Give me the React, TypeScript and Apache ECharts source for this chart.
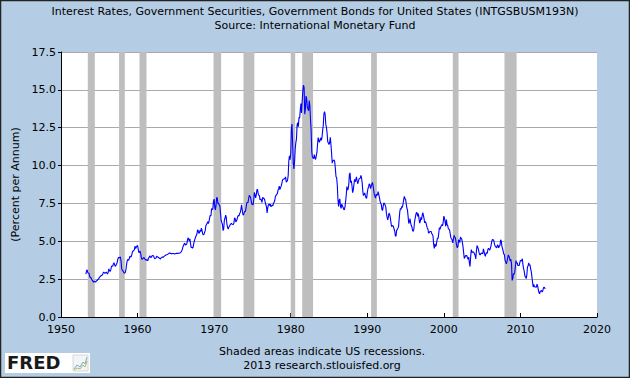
import React, { useEffect, useRef } from "react";
import * as echarts from "echarts";

// Monthly values, starting April 1953
const START_YEAR = 1953;
const START_MONTH = 4;
const yields1950s = [
  2.83, 3.05, 3.11, 2.93, 2.95, 2.87, 2.66, 2.68, 2.59,
  2.48, 2.47, 2.37, 2.29, 2.37, 2.38, 2.30, 2.36, 2.38, 2.43, 2.48, 2.51,
  2.61, 2.65, 2.68, 2.75, 2.76, 2.78, 2.90, 2.97, 2.97, 2.88, 2.89, 2.96,
  2.90, 2.84, 2.96, 3.18, 3.07, 3.00, 3.11, 3.33, 3.38, 3.34, 3.49, 3.59,
  3.46, 3.34, 3.41, 3.48, 3.60, 3.80, 3.93, 3.93, 3.92, 3.97, 3.72, 3.21,
  3.09, 3.05, 2.98, 2.88, 2.92, 2.97, 3.20, 3.54, 3.76, 3.80, 3.74, 3.86,
  4.02, 3.96, 3.99, 4.12, 4.31, 4.34, 4.40, 4.43, 4.68, 4.53, 4.53, 4.69,
];
const yields1960s = [
  4.72, 4.49, 4.25, 4.28, 4.35, 4.15, 3.90, 3.80, 3.80, 3.89, 3.93, 3.84,
  3.84, 3.78, 3.74, 3.78, 3.71, 3.88, 3.92, 4.04, 3.98, 3.92, 3.94, 4.06,
  4.08, 4.04, 3.93, 3.84, 3.87, 3.91, 4.01, 3.98, 3.98, 3.93, 3.92, 3.86,
  3.83, 3.92, 3.93, 3.97, 3.93, 3.99, 4.02, 4.00, 4.08, 4.11, 4.12, 4.13,
  4.17, 4.15, 4.22, 4.23, 4.20, 4.17, 4.19, 4.19, 4.20, 4.19, 4.15, 4.18,
  4.19, 4.21, 4.21, 4.20, 4.21, 4.21, 4.20, 4.25, 4.29, 4.35, 4.45, 4.62,
  4.61, 4.83, 4.87, 4.75, 4.78, 4.81, 5.02, 5.22, 5.18, 5.01, 5.16, 4.84,
  4.58, 4.63, 4.54, 4.59, 4.85, 5.02, 5.16, 5.28, 5.30, 5.48, 5.75, 5.70,
  5.53, 5.56, 5.74, 5.64, 5.87, 5.72, 5.50, 5.42, 5.46, 5.58, 5.70, 6.03,
  6.04, 6.19, 6.30, 6.17, 6.32, 6.57, 6.72, 6.69, 7.16, 7.10, 7.14, 7.65,
];
const yields1970s = [
  7.79, 7.24, 7.07, 7.39, 7.91, 7.84, 7.46, 7.53, 7.39, 7.33, 6.84, 6.39,
  6.24, 6.11, 5.70, 5.83, 6.39, 6.52, 6.73, 6.58, 6.14, 5.93, 5.81, 5.93,
  5.95, 6.08, 6.07, 6.19, 6.13, 6.11, 6.11, 6.21, 6.55, 6.48, 6.28, 6.36,
  6.46, 6.64, 6.71, 6.67, 6.85, 6.90, 7.13, 7.40, 7.09, 6.79, 6.73, 6.74,
  6.99, 6.96, 7.21, 7.51, 7.58, 7.54, 7.81, 8.04, 8.04, 7.90, 7.68, 7.43,
  7.50, 7.39, 7.73, 8.23, 8.06, 7.86, 8.06, 8.40, 8.43, 8.14, 8.05, 8.00,
  7.74, 7.79, 7.73, 7.56, 7.90, 7.86, 7.83, 7.77, 7.59, 7.41, 7.29, 6.87,
  7.21, 7.39, 7.46, 7.37, 7.46, 7.28, 7.33, 7.40, 7.34, 7.52, 7.58, 7.69,
  7.96, 8.03, 8.04, 8.15, 8.35, 8.46, 8.64, 8.41, 8.42, 8.64, 8.81, 9.01,
  9.10, 9.10, 9.12, 9.18, 9.25, 8.91, 8.95, 9.03, 9.33, 10.30, 10.65, 10.39,
];
const yields1980s = [
  10.80, 12.41, 12.75, 11.47, 10.18, 9.78, 10.25, 11.10, 11.51, 11.75, 12.68, 12.84,
  12.57, 13.19, 13.12, 13.68, 14.10, 13.47, 14.28, 14.94, 15.32, 15.15, 13.39, 13.72,
  14.59, 14.43, 13.86, 13.87, 13.62, 14.30, 13.95, 13.06, 12.34, 10.91, 10.55, 10.54,
  10.46, 10.72, 10.51, 10.40, 10.38, 10.85, 11.38, 11.85, 11.65, 11.54, 11.69, 11.83,
  11.67, 11.84, 12.32, 12.63, 13.41, 13.56, 13.36, 12.72, 12.52, 12.16, 11.57, 11.50,
  11.38, 11.51, 11.86, 11.43, 10.85, 10.16, 10.31, 10.33, 10.37, 10.24, 9.78, 9.26,
  9.19, 8.70, 7.78, 7.30, 7.71, 7.80, 7.30, 7.17, 7.45, 7.43, 7.25, 7.11,
  7.08, 7.25, 7.25, 8.02, 8.61, 8.40, 8.45, 8.76, 9.42, 9.52, 8.86, 8.99,
  8.67, 8.21, 8.37, 8.72, 9.09, 8.92, 9.06, 9.26, 8.98, 8.80, 8.96, 9.11,
  9.09, 9.17, 9.36, 9.18, 8.86, 8.28, 8.02, 8.11, 8.19, 8.01, 7.87, 7.84,
];
const yields1990s = [
  8.21, 8.47, 8.59, 8.79, 8.76, 8.48, 8.47, 8.75, 8.89, 8.72, 8.39, 8.08,
  8.09, 7.85, 8.11, 8.04, 8.07, 8.28, 8.27, 7.90, 7.65, 7.53, 7.42, 7.09,
  7.03, 7.34, 7.54, 7.48, 7.39, 7.26, 6.84, 6.59, 6.42, 6.59, 6.87, 6.77,
  6.60, 6.26, 5.98, 5.97, 6.04, 5.96, 5.81, 5.68, 5.36, 5.33, 5.72, 5.77,
  5.75, 5.97, 6.48, 6.97, 7.18, 7.10, 7.30, 7.24, 7.46, 7.74, 7.96, 7.81,
  7.78, 7.47, 7.20, 7.06, 6.63, 6.17, 6.28, 6.49, 6.20, 6.04, 5.93, 5.71,
  5.65, 5.81, 6.27, 6.51, 6.74, 6.91, 6.87, 6.64, 6.83, 6.53, 6.20, 6.30,
  6.58, 6.42, 6.69, 6.89, 6.71, 6.49, 6.22, 6.30, 6.21, 6.03, 5.88, 5.81,
  5.54, 5.57, 5.65, 5.64, 5.65, 5.50, 5.46, 5.34, 4.81, 4.53, 4.83, 4.65,
  4.72, 5.00, 5.23, 5.18, 5.54, 5.90, 5.79, 5.94, 5.92, 6.11, 6.03, 6.28,
];
const yields2000s = [
  6.66, 6.52, 6.26, 5.99, 6.44, 6.10, 6.05, 5.83, 5.80, 5.74, 5.72, 5.24,
  5.16, 5.10, 4.89, 5.14, 5.39, 5.28, 5.24, 4.97, 4.73, 4.57, 4.65, 5.09,
  5.04, 4.91, 5.28, 5.21, 5.16, 4.93, 4.65, 4.26, 3.87, 3.94, 4.05, 4.03,
  4.05, 3.90, 3.81, 3.96, 3.57, 3.33, 3.98, 4.45, 4.27, 4.29, 4.30, 4.27,
  4.15, 4.08, 3.83, 4.35, 4.72, 4.73, 4.50, 4.28, 4.13, 4.10, 4.19, 4.23,
  4.22, 4.17, 4.50, 4.34, 4.14, 4.00, 4.18, 4.26, 4.20, 4.46, 4.54, 4.47,
  4.42, 4.57, 4.72, 4.99, 5.11, 5.11, 5.09, 4.88, 4.72, 4.73, 4.60, 4.56,
  4.76, 4.72, 4.56, 4.69, 4.75, 5.10, 5.00, 4.67, 4.52, 4.53, 4.15, 4.10,
  3.74, 3.74, 3.51, 3.68, 3.88, 4.10, 4.01, 3.89, 3.69, 3.81, 3.53, 2.42,
  2.52, 2.87, 2.82, 2.93, 3.29, 3.72, 3.56, 3.59, 3.40, 3.39, 3.40, 3.59,
];
const yields2010s = [
  3.73, 3.69, 3.73, 3.85, 3.42, 3.20, 3.01, 2.70, 2.65, 2.54, 2.76, 3.29,
  3.39, 3.58, 3.41, 3.46, 3.17, 3.00, 3.00, 2.30, 1.98, 2.15, 2.01, 1.98,
  1.97, 1.97, 2.17, 2.05, 1.80, 1.62, 1.53, 1.68, 1.72, 1.75, 1.65, 1.72,
  1.91, 1.98, 1.96, 1.86,
];

// Recessions: [start year, start month, end year, end month]
const recessions = [
  [1953, 7, 1954, 5],
  [1957, 8, 1958, 4],
  [1960, 4, 1961, 2],
  [1969, 12, 1970, 11],
  [1973, 11, 1975, 3],
  [1980, 1, 1980, 7],
  [1981, 7, 1982, 11],
  [1990, 7, 1991, 3],
  [2001, 3, 2001, 11],
  [2007, 12, 2009, 6],
];

const xTicks = [1950, 1960, 1970, 1980, 1990, 2000, 2010, 2020];
const yTicks = [0, 2.5, 5, 7.5, 10, 12.5, 15, 17.5];

const titleText =
  "Interest Rates, Government Securities, Government Bonds for United States (INTGSBUSM193N)";
const subtitleText = "Source: International Monetary Fund";
const yAxisName = "(Percent per Annum)";
const footnote1 = "Shaded areas indicate US recessions.";
const footnote2 = "2013 research.stlouisfed.org";

const FONT = "DejaVu Sans, Verdana, sans-serif";

export default function App() {
  const ref = useRef<HTMLDivElement>(null);

  useEffect(() => {
    if (!ref.current) return;
    const chart = echarts.init(ref.current, undefined, { renderer: "svg" });

    const all = [
      ...yields1950s,
      ...yields1960s,
      ...yields1970s,
      ...yields1980s,
      ...yields1990s,
      ...yields2000s,
      ...yields2010s,
    ];
    const data = all.map((v, i) => {
      const m = START_MONTH - 1 + i;
      return [START_YEAR + m / 12, v];
    });

    const areas = recessions.map(([sy, sm, ey, em]) => [
      { xAxis: sy + (sm - 1) / 12 },
      { xAxis: ey + em / 12 },
    ]);

    const option: any = {
      animation: false,
      backgroundColor: "#B4CDE5",
      textStyle: { fontFamily: FONT },
      grid: { left: 61, top: 52, right: 33, bottom: 61, show: true, backgroundColor: "#FFFFFF", borderWidth: 0 },
      xAxis: {
        type: "value",
        min: xTicks[0],
        max: xTicks[xTicks.length - 1],
        interval: 10,
        axisLine: { show: true, onZero: false, lineStyle: { color: "#000000", width: 1 } },
        axisTick: { show: true, inside: true, length: 4, lineStyle: { color: "#000000" } },
        axisLabel: {
          color: "#000000",
          fontSize: 11,
          fontFamily: FONT,
          margin: 7,
          formatter: (v: number) => String(v),
        },
        splitLine: { show: false },
      },
      yAxis: {
        type: "value",
        min: yTicks[0],
        max: yTicks[yTicks.length - 1],
        interval: 2.5,
        name: yAxisName,
        nameLocation: "middle",
        nameRotate: 90,
        nameGap: 40,
        nameTextStyle: { color: "#000000", fontSize: 11, fontFamily: FONT },
        axisLine: { show: true, lineStyle: { color: "#000000", width: 1 } },
        axisTick: { show: true, inside: false, length: 3, lineStyle: { color: "#000000" } },
        axisLabel: {
          color: "#000000",
          fontSize: 11,
          fontFamily: FONT,
          margin: 5,
          formatter: (v: number) => v.toFixed(1),
        },
        splitLine: { show: true, lineStyle: { color: "#AAAAAA", width: 1 } },
      },
      series: [
        {
          type: "line",
          data: [],
          z: 1,
          markArea: {
            silent: true,
            itemStyle: { color: "#BEBEBE", opacity: 1 },
            data: areas,
          },
        },
        {
          type: "line",
          data,
          z: 3,
          showSymbol: false,
          symbol: "none",
          lineStyle: { color: "#0000FF", width: 1.1 },
        },
      ],
      graphic: [
        {
          type: "text",
          left: "center",
          top: 6,
          style: { text: titleText, fill: "#000000", font: `11px ${FONT}` },
        },
        {
          type: "text",
          left: "center",
          top: 20,
          style: { text: subtitleText, fill: "#000000", font: `11px ${FONT}` },
        },
        {
          type: "text",
          x: 322,
          y: 346,
          style: { text: footnote1, fill: "#000000", font: `11px ${FONT}`, textAlign: "center" },
        },
        {
          type: "text",
          x: 322,
          y: 360,
          style: { text: footnote2, fill: "#000000", font: `11px ${FONT}`, textAlign: "center" },
        },
        {
          type: "group",
          x: 5,
          y: 353,
          children: [
            { type: "rect", shape: { x: 0, y: 0, width: 85, height: 20 }, style: { fill: "#FFFFFF" } },
            {
              type: "text",
              x: 2,
              y: 0,
              style: { text: "FRED", fill: "#1A1A1A", font: `900 18px ${FONT}` },
            },
            { type: "rect", shape: { x: 68, y: 2, width: 15, height: 16 }, style: { fill: "#F4F4F4", stroke: "#D8D8D8", lineWidth: 1 } },
            {
              type: "polyline",
              shape: { points: [[69, 16], [72, 12], [75, 14], [78, 9], [80, 11], [82, 4]] },
              style: { stroke: "#7FA8D0", lineWidth: 1, fill: "none" },
            },
            {
              type: "polyline",
              shape: { points: [[69, 17], [72, 15], [75, 16], [78, 12], [80, 14], [82, 8]] },
              style: { stroke: "#9CC46A", lineWidth: 1, fill: "none" },
            },
          ],
        },
        {
          type: "rect",
          shape: { x: 0.5, y: 0.5, width: 629, height: 377 },
          style: { fill: "none", stroke: "#222222", lineWidth: 1.5 },
          silent: true,
        },
      ],
    };

    chart.setOption(option);
    return () => chart.dispose();
  }, []);

  return (
    <div
      ref={ref}
      style={{ position: "fixed", left: 0, top: 0, width: 630, height: 378 }}
    />
  );
}
